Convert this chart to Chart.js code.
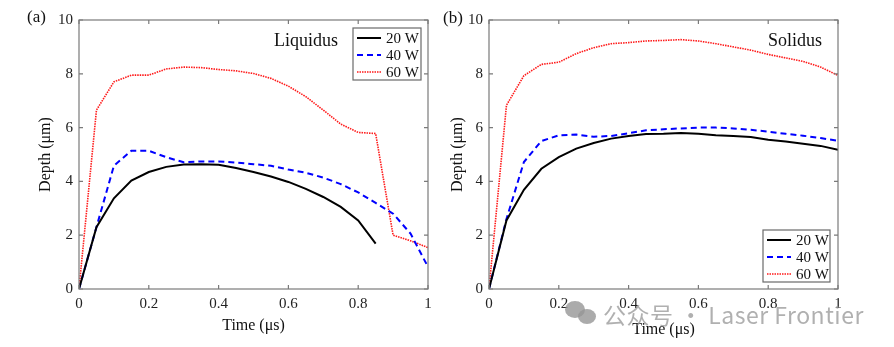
<!DOCTYPE html>
<html>
<head>
<meta charset="utf-8">
<script src="https://cdn.jsdelivr.net/npm/chart.js@4.4.1/dist/chart.umd.min.js"></script>
<style>
  body { margin: 0; background: #fff; }
  #wrap { position: relative; width: 894px; height: 347px; overflow: hidden; }
  #left { position: absolute; left: 0; top: 0; }
  #right { position: absolute; left: 440px; top: 0; }
  .mark { position: absolute; font-family: "Liberation Serif", serif; font-size: 17px; color: #111; }
  #wm { position: absolute; left: 603px; top: 297px; font-family: "Noto Sans CJK SC", "Noto Sans", sans-serif;
        font-size: 23px; color: rgba(150,150,150,0.75); white-space: nowrap; letter-spacing: 0.5px; }
  .bub { position: absolute; background: rgba(150,150,150,0.8); border-radius: 50%; }
</style>
</head>
<body>
<div id="wrap">
  <canvas id="left" width="440" height="347"></canvas>
  <canvas id="right" width="454" height="347"></canvas>
  <div class="mark" style="left:27px;top:7px">(a)</div>
  <div class="mark" style="left:443px;top:8px">(b)</div>
  <div class="bub" style="left:565px;top:301px;width:20px;height:17px"></div>
  <div class="bub" style="left:578px;top:309px;width:18px;height:15px"></div>
  <div id="wm">公众号 · Laser Frontier</div>
</div>
<script>
// time steps (µs)
const time = [0, 0.05, 0.1, 0.15, 0.2, 0.25, 0.3, 0.35, 0.4, 0.45, 0.5,
              0.55, 0.6, 0.65, 0.7, 0.75, 0.8, 0.85, 0.9, 0.95, 1.0];

// liquidus depth (µm)
const liq20 = [0, 2.3, 3.37, 4.03, 4.35, 4.54, 4.63, 4.64, 4.62, 4.5, 4.35,
               4.18, 3.98, 3.72, 3.42, 3.05, 2.55, 1.69];
const liq40 = [0, 2.3, 4.58, 5.14, 5.14, 4.9, 4.71, 4.74, 4.74, 4.7, 4.64,
               4.58, 4.44, 4.32, 4.14, 3.9, 3.59, 3.2, 2.8, 2.06, 0.82];
const liq60 = [0, 6.65, 7.7, 7.95, 7.95, 8.18, 8.25, 8.23, 8.16, 8.11, 8.01,
               7.83, 7.54, 7.15, 6.65, 6.13, 5.82, 5.78, 2.0, 1.79, 1.54];

// solidus depth (µm)
const sol20 = [0, 2.55, 3.69, 4.47, 4.9, 5.22, 5.43, 5.59, 5.69, 5.76, 5.77,
               5.8, 5.77, 5.72, 5.69, 5.65, 5.55, 5.48, 5.4, 5.32, 5.18];
const sol40 = [0, 2.6, 4.72, 5.5, 5.71, 5.74, 5.66, 5.69, 5.79, 5.9, 5.94,
               5.97, 6.0, 6.0, 5.97, 5.92, 5.85, 5.77, 5.7, 5.61, 5.51];
const sol60 = [0, 6.83, 7.93, 8.35, 8.43, 8.75, 8.97, 9.12, 9.16, 9.22, 9.24,
               9.27, 9.22, 9.12, 9.0, 8.88, 8.72, 8.59, 8.46, 8.25, 7.94];

const powers = ['20 W', '40 W', '60 W'];
const xTicks = [0, 0.2, 0.4, 0.6, 0.8, 1];
const yTicks = [0, 2, 4, 6, 8, 10];

const serif = '"Liberation Serif", "Times New Roman", serif';
const styles = [
  { color: '#000000', width: 2, dash: [] },
  { color: '#0000ff', width: 2, dash: [6, 4] },
  { color: '#ff1a1a', width: 1.6, dash: [1.5, 1] }
];

function series(vals, i) {
  const s = styles[i];
  return {
    label: powers[i],
    data: vals.map((v, k) => ({ x: time[k], y: v })),
    borderColor: s.color,
    borderWidth: s.width,
    borderDash: s.dash,
    pointRadius: 0,
    tension: 0,
    fill: false
  };
}

// box frame with inward ticks, panel name and legend
const panelDecor = {
  id: 'panelDecor',
  afterDatasetsDraw(chart, args, opts) {
    const { ctx, chartArea: a, scales: { x, y } } = chart;
    ctx.save();
    ctx.strokeStyle = '#7a7a7a';
    ctx.lineWidth = 1.2;
    ctx.strokeRect(a.left, a.top, a.right - a.left, a.bottom - a.top);
    ctx.beginPath();
    xTicks.forEach(v => {
      const px = x.getPixelForValue(v);
      ctx.moveTo(px, a.bottom); ctx.lineTo(px, a.bottom - 4);
      ctx.moveTo(px, a.top); ctx.lineTo(px, a.top + 4);
    });
    yTicks.forEach(v => {
      const py = y.getPixelForValue(v);
      ctx.moveTo(a.left, py); ctx.lineTo(a.left + 4, py);
      ctx.moveTo(a.right, py); ctx.lineTo(a.right - 4, py);
    });
    ctx.stroke();

    ctx.fillStyle = '#111';
    ctx.font = '18px ' + serif;
    ctx.textBaseline = 'middle';
    ctx.textAlign = 'left';
    ctx.fillText(opts.name, opts.nameX, opts.nameY);

    // legend
    const L = opts.legend;
    ctx.fillStyle = '#fff';
    ctx.fillRect(L.x, L.y, L.w, L.h);
    ctx.strokeStyle = '#6a6a6a';
    ctx.lineWidth = 1.2;
    ctx.strokeRect(L.x, L.y, L.w, L.h);
    ctx.font = '15px ' + serif;
    powers.forEach((p, i) => {
      const s = styles[i];
      const ly = L.y + 10 + i * 17;
      ctx.beginPath();
      ctx.strokeStyle = s.color;
      ctx.lineWidth = s.width;
      ctx.setLineDash(s.dash);
      ctx.moveTo(L.x + 4, ly);
      ctx.lineTo(L.x + 28, ly);
      ctx.stroke();
      ctx.setLineDash([]);
      ctx.fillStyle = '#111';
      ctx.fillText(p, L.x + 33, ly + 1);
    });
    ctx.restore();
  }
};

function makeChart(id, sets, yAxisW, padRight, xTitlePad, yTitlePad, decor) {
  return new Chart(document.getElementById(id), {
    type: 'line',
    data: { datasets: sets },
    plugins: [panelDecor],
    options: {
      responsive: false,
      animation: false,
      layout: { padding: { top: 20, right: padRight, bottom: 0, left: 0 } },
      plugins: {
        legend: { display: false },
        tooltip: { enabled: false },
        panelDecor: decor
      },
      scales: {
        x: {
          type: 'linear', min: 0, max: 1,
          afterFit: s => { s.height = 58; },
          afterBuildTicks: s => { s.ticks = xTicks.map(v => ({ value: v })); },
          grid: { display: false, drawTicks: false },
          border: { display: false },
          ticks: { padding: 6, color: '#222', font: { family: serif, size: 15 }, maxRotation: 0,
                   callback: v => String(v) },
          title: { display: true, text: 'Time (μs)', color: '#111',
                   font: { family: serif, size: 16 }, padding: { top: xTitlePad, bottom: xTitlePad } }
        },
        y: {
          type: 'linear', min: 0, max: 10,
          afterFit: s => { s.width = yAxisW; },
          afterBuildTicks: s => { s.ticks = yTicks.map(v => ({ value: v })); },
          grid: { display: false, drawTicks: false },
          border: { display: false },
          ticks: { padding: 6, color: '#222', font: { family: serif, size: 15 } },
          title: { display: true, text: 'Depth (μm)', color: '#111',
                   font: { family: serif, size: 16 }, padding: { top: yTitlePad, bottom: yTitlePad } }
        }
      }
    }
  });
}

makeChart('left', [series(liq20, 0), series(liq40, 1), series(liq60, 2)],
  79, 12, 12, 36,
  { name: 'Liquidus', nameX: 274, nameY: 41, legend: { x: 353, y: 28, w: 68, h: 52 } });

makeChart('right', [series(sol20, 0), series(sol40, 1), series(sol60, 2)],
  49, 56, 8, 8,
  { name: 'Solidus', nameX: 328, nameY: 41, legend: { x: 323, y: 230, w: 67, h: 52 } });
</script>
</body>
</html>
